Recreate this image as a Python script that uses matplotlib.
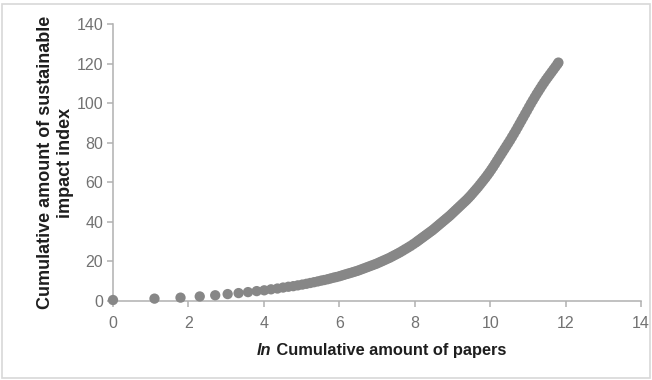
import matplotlib
matplotlib.use('Agg')
import matplotlib.pyplot as plt
from matplotlib.patches import Rectangle

plt.rcParams['font.family'] = ['Liberation Sans', 'DejaVu Sans']

# ln(cumulative papers) and cumulative sustainable impact index
ln_papers = [
    0.00, 1.10, 1.79, 2.30, 2.71, 3.04, 3.33, 3.58, 3.81, 4.01,
    4.19, 4.36, 4.51, 4.65, 4.78, 4.90, 5.02, 5.13, 5.23, 5.33,
    5.43, 5.52, 5.60, 5.69, 5.77, 5.85, 5.92, 6.00,
    6.07, 6.14, 6.21, 6.28, 6.35, 6.42, 6.49, 6.56, 6.63, 6.70,
    6.77, 6.84, 6.91, 6.98, 7.05, 7.12, 7.19, 7.26, 7.33, 7.40,
    7.47, 7.54, 7.61, 7.68, 7.75, 7.82, 7.89, 7.96, 8.03,
    8.08, 8.13, 8.18, 8.23, 8.28, 8.33, 8.38, 8.43, 8.48, 8.53,
    8.58, 8.63, 8.68, 8.73, 8.78, 8.83, 8.88, 8.93, 8.98, 9.03,
    9.08, 9.13, 9.18, 9.23, 9.28, 9.33, 9.38, 9.43, 9.48, 9.53,
    9.58, 9.63, 9.68, 9.73, 9.78, 9.83, 9.88, 9.93, 9.98, 10.03,
    10.08, 10.13, 10.18, 10.23, 10.28, 10.33, 10.38, 10.43, 10.48, 10.53,
    10.58, 10.63, 10.68, 10.73, 10.78, 10.83, 10.88, 10.93, 10.98, 11.03,
    11.08, 11.13, 11.18, 11.23, 11.28, 11.33, 11.38, 11.43, 11.48, 11.53,
    11.58, 11.63, 11.68, 11.73, 11.78, 11.81,
]
impact_index = [
    0.5, 1.2, 1.7, 2.3, 2.9, 3.5, 4.0, 4.5, 5.0, 5.4,
    5.9, 6.3, 6.8, 7.2, 7.5, 7.9, 8.3, 8.7, 9.1, 9.5,
    9.9, 10.3, 10.6, 11.0, 11.4, 11.8, 12.1, 12.5,
    12.9, 13.3, 13.7, 14.1, 14.5, 14.9, 15.3, 15.8, 16.3, 16.8,
    17.3, 17.8, 18.3, 18.8, 19.4, 20.0, 20.6, 21.2, 21.8, 22.5,
    23.2, 23.9, 24.6, 25.4, 26.2, 27.0, 27.8, 28.7, 29.6,
    30.3, 31.0, 31.7, 32.4, 33.1, 33.8, 34.5, 35.2, 35.9, 36.7,
    37.5, 38.3, 39.1, 39.9, 40.7, 41.5, 42.3, 43.1, 44.0, 44.9,
    45.8, 46.7, 47.6, 48.5, 49.4, 50.3, 51.2, 52.2, 53.2, 54.3,
    55.4, 56.5, 57.6, 58.8, 60.0, 61.2, 62.4, 63.7, 65.0, 66.4,
    67.8, 69.3, 70.8, 72.3, 73.8, 75.3, 76.8, 78.3, 79.8, 81.3,
    82.9, 84.5, 86.1, 87.8, 89.5, 91.2, 92.9, 94.6, 96.3, 98.0,
    99.7, 101.3, 102.9, 104.5, 106.0, 107.5, 109.0, 110.4, 111.8, 113.1,
    114.4, 115.7, 117.0, 118.3, 119.6, 120.5,
]
x_ticks = [0, 2, 4, 6, 8, 10, 12, 14]
y_ticks = [0, 20, 40, 60, 80, 100, 120, 140]

fig = plt.figure(figsize=(6.52, 3.80), dpi=100)
fig.patch.set_facecolor('white')

# light frame around the whole picture
fig.add_artist(Rectangle((2 / 652, 2 / 380), 648 / 652, 374 / 380,
                         transform=fig.transFigure, fill=False,
                         edgecolor='#d8d8d8', linewidth=1.2))

ax = fig.add_axes([113 / 652, 79 / 380, 528 / 652, 277 / 380])
ax.scatter(ln_papers, impact_index, s=55, color='#878787', edgecolors='none',
           zorder=3, clip_on=False)

ax.set_xlim(0, 14)
ax.set_ylim(0, 140)
ax.set_xticks(x_ticks)
ax.set_yticks(y_ticks)

for side in ['top', 'right']:
    ax.spines[side].set_visible(False)
for side in ['left', 'bottom']:
    ax.spines[side].set_color('#b0b0b0')
    ax.spines[side].set_linewidth(1.1)
ax.tick_params(axis='both', colors='#b0b0b0', length=4, width=1.1,
               labelcolor='#727272', labelsize=11.5)
ax.tick_params(axis='x', pad=7)
ax.tick_params(axis='y', pad=3)

ax.set_ylabel('Cumulative amount of sustainable\nimpact index', fontsize=13,
              fontweight='bold', color='#1e1e1e', labelpad=2,
              linespacing=1.2)

# x label: italic "ln" followed by bold text
t1 = fig.text(257 / 652, 22 / 380, 'ln', fontsize=11.8, fontweight='bold',
              fontstyle='italic', color='#1e1e1e', va='bottom', ha='left')
ax.annotate(' Cumulative amount of papers', xy=(1, 0), xycoords=t1,
            fontsize=11.8, fontweight='bold', color='#1e1e1e',
            va='bottom', ha='left', annotation_clip=False)

fig.savefig('out.png', dpi=100)
